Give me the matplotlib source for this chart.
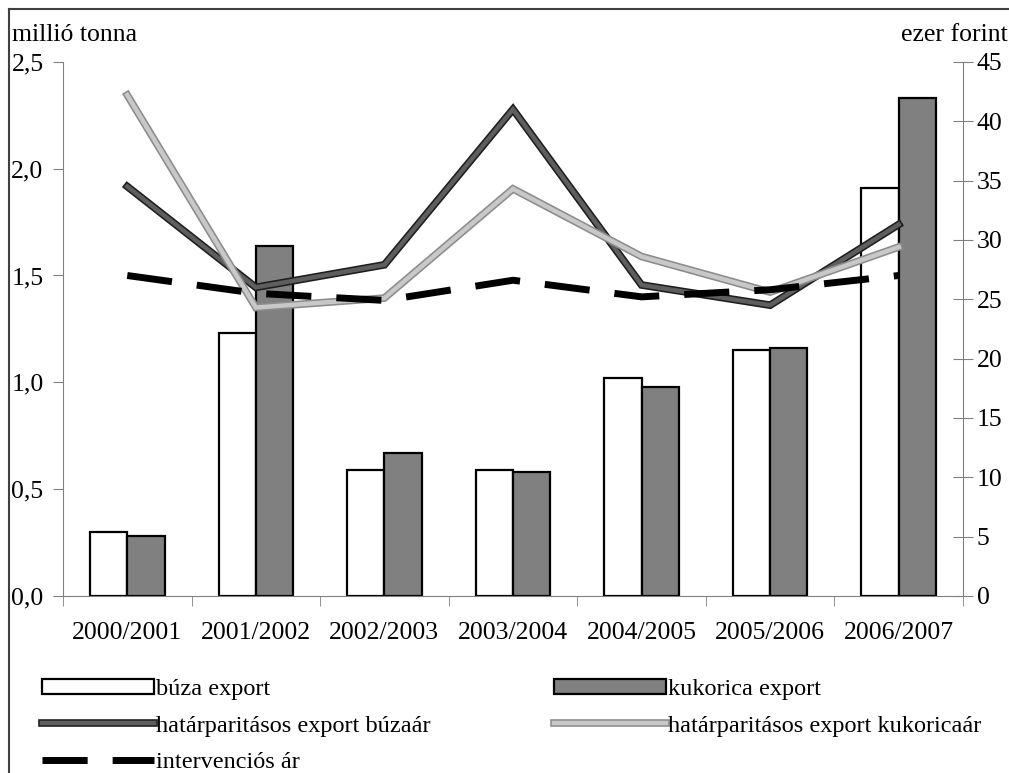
import numpy as np
import matplotlib.pyplot as plt
import matplotlib.patheffects as pe
from matplotlib.patches import Rectangle
from matplotlib.lines import Line2D

plt.rcParams['font.family'] = ['Liberation Serif', 'DejaVu Serif']
plt.rcParams['font.size'] = 18.5

# data
seasons = ['2000/2001', '2001/2002', '2002/2003', '2003/2004',
           '2004/2005', '2005/2006', '2006/2007']
buza_export = [0.30, 1.23, 0.59, 0.59, 1.02, 1.15, 1.91]        # millió tonna
kukorica_export = [0.28, 1.64, 0.67, 0.58, 0.98, 1.16, 2.33]    # millió tonna
buza_ar = [34.5, 26.0, 27.9, 41.0, 26.2, 24.5, 31.3]            # ezer forint
kukorica_ar = [42.2, 24.3, 25.1, 34.3, 28.6, 25.6, 29.4]        # ezer forint
interv_ar = [27.0, 25.5, 24.9, 26.6, 25.2, 25.8, 27.0]          # ezer forint

# textured-looking lines: darker rim, lighter core
dark_fx = [pe.Stroke(linewidth=5.5, foreground='#1e1e1e'), pe.Normal()]
light_fx = [pe.Stroke(linewidth=5.5, foreground='#8c8c8c'), pe.Normal()]
dark_kw = dict(color='#5e5e5e', lw=3.2, path_effects=dark_fx, solid_joinstyle='miter')
light_kw = dict(color='#c8c8c8', lw=3.2, path_effects=light_fx, solid_joinstyle='miter')
dash_kw = dict(color='black', lw=5, dashes=(6.5, 3.6))

fig = plt.figure(figsize=(10.09, 7.73), dpi=100)
ax = fig.add_axes([0.0624, 0.229, 0.892, 0.691])
ax2 = ax.twinx()

x = np.arange(len(seasons))
w = 0.29
ax.bar(x - w/2, buza_export, w, color='white', edgecolor='black', lw=1.6, zorder=2)
ax.bar(x + w/2, kukorica_export, w, color='#808080', edgecolor='black', lw=1.6, zorder=2)

ax2.plot(x, buza_ar, **dark_kw)
ax2.plot(x, kukorica_ar, **light_kw)
ax2.plot(x, interv_ar, **dash_kw)

ax.set_xlim(-0.5, len(seasons) - 0.5)
ax.set_ylim(0, 2.5)
ax2.set_ylim(0, 45)
ax.set_yticks(np.arange(0, 2.51, 0.5))
ax.set_yticklabels([f'{v:.1f}'.replace('.', ',') for v in np.arange(0, 2.51, 0.5)])
ax2.set_yticks(range(0, 46, 5))

ax.set_xticks(x)
ax.set_xticklabels(seasons)
ax.set_xticks(np.arange(-0.5, len(seasons)), minor=True)
ax.tick_params(axis='x', which='major', length=0, pad=19)
ax.tick_params(axis='x', which='minor', length=7, color='#808080', direction='out')
ax.tick_params(axis='y', length=7, color='#808080', pad=7)
ax2.tick_params(axis='y', length=14, direction='inout', color='#808080', pad=3)

for a in (ax, ax2):
    a.spines['top'].set_visible(False)
for s in ('left', 'right', 'bottom'):
    ax2.spines[s].set_color('#808080')
ax.spines['right'].set_visible(False)
ax.spines['left'].set_color('#808080')
ax.spines['bottom'].set_color('#808080')
ax2.spines['left'].set_visible(False)
ax2.spines['bottom'].set_visible(False)

fig.text(12/1009, 1 - 41/773, 'millió tonna', ha='left', va='baseline')
fig.text(1008/1009, 1 - 41/773, 'ezer forint', ha='right', va='baseline')

# outer frame (left and top edges)
fig.add_artist(Line2D([9/1009, 9/1009], [0, 1 - 9/773], transform=fig.transFigure, color='#404040', lw=1.5))
fig.add_artist(Line2D([9/1009, 1], [1 - 9/773, 1 - 9/773], transform=fig.transFigure, color='#404040', lw=1.5))

h_buza = Rectangle((0, 0), 1, 1, facecolor='white', edgecolor='black', lw=1.6)
h_kuk = Rectangle((0, 0), 1, 1, facecolor='#808080', edgecolor='black', lw=1.6)
h_bar = Line2D([], [], **dark_kw)
h_kar = Line2D([], [], **light_kw)
h_int = Line2D([], [], **dash_kw)

leg_kw = dict(frameon=False, handlelength=4.6, handletextpad=0.1, labelspacing=0.62,
              borderaxespad=0, borderpad=0, fontsize=17.5, handleheight=0.6)
leg1 = fig.legend([h_buza, h_bar, h_int], ['búza export', 'határparitásos export búzaár', 'intervenciós ár'],
                  loc='upper left', bbox_to_anchor=(42/1009, 1 - 679/773), **leg_kw)
leg2 = fig.legend([h_kuk, h_kar], ['kukorica export', 'határparitásos export kukoricaár'],
                  loc='upper left', bbox_to_anchor=(554/1009, 1 - 679/773), **leg_kw)

fig.savefig('out.png', dpi=100)
